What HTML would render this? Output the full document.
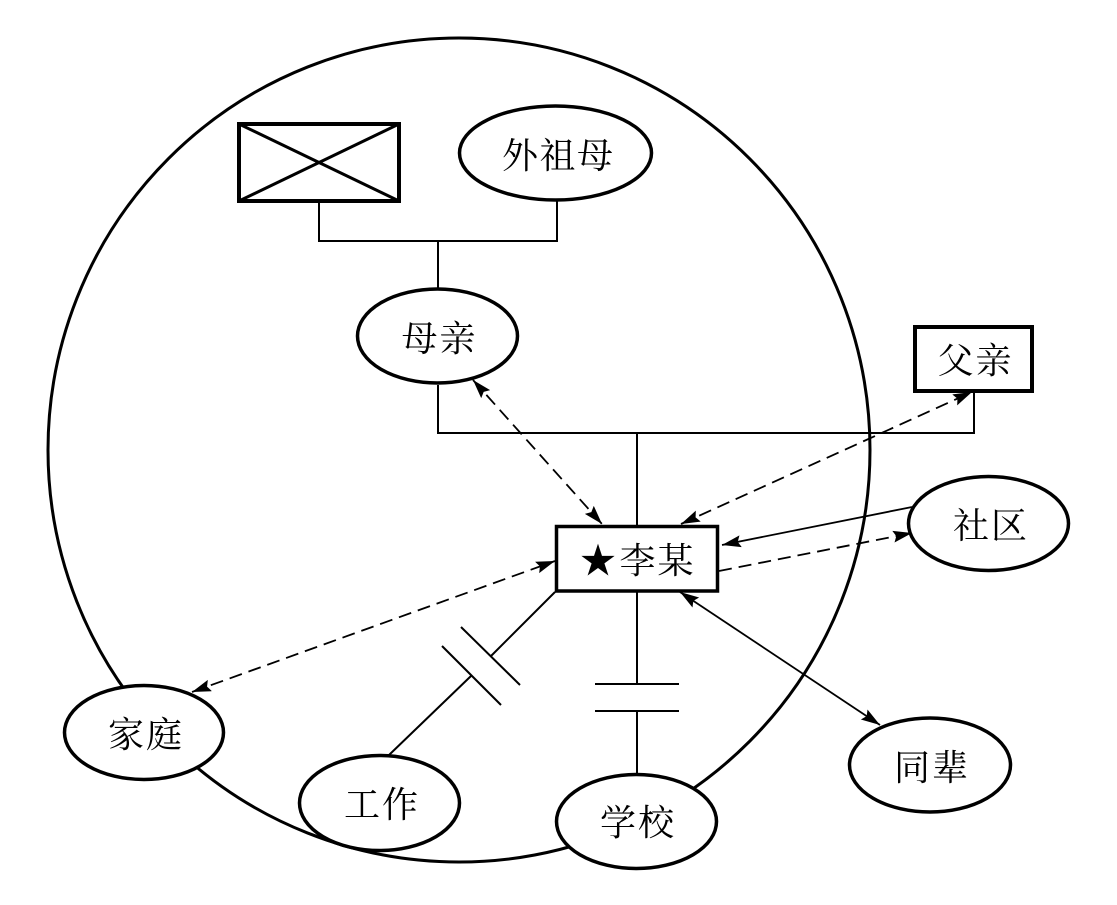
<!DOCTYPE html>
<html>
<head>
<meta charset="utf-8">
<style>
html,body{margin:0;padding:0;background:#fff;width:1117px;height:905px;overflow:hidden}
svg{display:block}
text{font-family:"Liberation Serif","Noto Serif CJK SC",serif;font-size:36px;fill:#000;text-anchor:middle}
</style>
</head>
<body>
<svg width="1117" height="905" viewBox="0 0 1117 905">
<defs>
<marker id="a" markerUnits="userSpaceOnUse" markerWidth="22" markerHeight="14" refX="19" refY="6" orient="auto-start-reverse">
<path d="M0 0L19 6L0 12L3 6Z" fill="#000"/>
</marker>
</defs>
<ellipse cx="459" cy="450" rx="411" ry="412" fill="none" stroke="#000" stroke-width="3"/>

<g fill="none" stroke="#000" stroke-width="2">
<path d="M319 201V241H557V200M438 241V290"/>
<path d="M438 385V433H974V392M637 433V526"/>
<path d="M555 592L491 656M471 676L389 755M637 592V684M637 711V778"/>
</g>
<g stroke="#000" stroke-width="2">
<line x1="442" y1="646" x2="501" y2="705"/>
<line x1="461" y1="627" x2="520" y2="685"/>
<line x1="595" y1="684" x2="679" y2="684"/>
<line x1="595" y1="711" x2="679" y2="711"/>
</g>

<g fill="none" stroke="#000" stroke-width="1.8" stroke-dasharray="13 7">
<line x1="473" y1="380" x2="602" y2="524" marker-start="url(#a)" marker-end="url(#a)"/>
<line x1="681" y1="524" x2="972" y2="392" marker-start="url(#a)" marker-end="url(#a)"/>
<line x1="192" y1="692" x2="555" y2="561" marker-start="url(#a)" marker-end="url(#a)"/>
<line x1="719" y1="571" x2="912" y2="533" marker-end="url(#a)"/>
</g>
<g fill="none" stroke="#000" stroke-width="1.8">
<line x1="912" y1="507" x2="722" y2="545" marker-end="url(#a)"/>
<line x1="680" y1="592" x2="880" y2="725" marker-start="url(#a)" marker-end="url(#a)"/>
</g>

<rect x="239" y="124" width="160" height="77" fill="#fff" stroke="#000" stroke-width="4"/>
<line x1="239" y1="124" x2="399" y2="201" stroke="#000" stroke-width="3"/>
<line x1="239" y1="201" x2="399" y2="124" stroke="#000" stroke-width="3"/>

<g fill="#fff" stroke="#000" stroke-width="3.5">
<ellipse cx="555.5" cy="153" rx="96" ry="47"/>
<ellipse cx="437.5" cy="336" rx="80" ry="47"/>
<rect x="915" y="327" width="117" height="64" stroke-width="4"/>
<rect x="556.5" y="526.5" width="161" height="64.5"/>
<ellipse cx="988.5" cy="523.5" rx="80" ry="47"/>
<ellipse cx="144" cy="732.5" rx="79.5" ry="47"/>
<ellipse cx="379.5" cy="803" rx="80" ry="47.5"/>
<ellipse cx="636.5" cy="821.5" rx="80" ry="47"/>
<ellipse cx="930" cy="765" rx="80.5" ry="47"/>
</g>

<text x="520 557.5 595" y="168">外祖母</text>
<text x="419.5 457.5" y="351">母亲</text>
<text x="955.5 993.5" y="373">父亲</text>
<text x="598" y="573" style="font-size:36px">★</text>
<text x="637.5 675.5" y="573">李某</text>
<text x="971 1009" y="538">社区</text>
<text x="126 164" y="747">家庭</text>
<text x="362 400" y="817">工作</text>
<text x="618 656" y="835">学校</text>
<text x="912 950" y="780">同辈</text>
</svg>
</body>
</html>
